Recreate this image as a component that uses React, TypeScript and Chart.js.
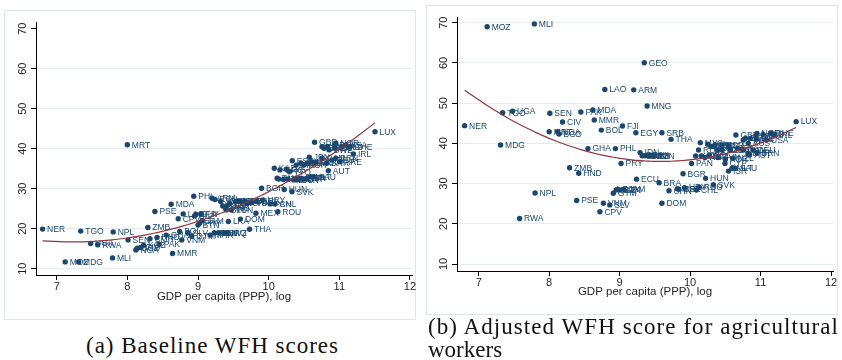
import React, { useEffect, useLayoutEffect, useRef, useState } from "react";
import { Chart, registerables } from "chart.js";

Chart.register(...registerables);
Chart.defaults.font.family = '"Liberation Sans", Arial, Helvetica, sans-serif';

// Country codes with log GDP per capita (PPP) and the two WFH measures
const CODES = [
  "NER", "MOZ", "MDG", "TGO", "UGA", "RWA", "MLI", "NPL", "MRT", "SEN",
  "NGA", "BGD", "CIV", "KGZ", "ZMB", "CMR", "PSE", "HND", "PAK", "GHA",
  "MDA", "MMR", "CPV", "BOL", "VNM", "LAO", "SLV", "GTM", "PHL", "BLZ",
  "GUY", "BTN", "PRY", "FJI", "JAM", "MAR", "ARM", "EGY", "ECU", "IDN",
  "JOR", "GEO", "SWZ", "MNG", "BIH", "IRQ", "ALB", "LKA", "PER", "TUN",
  "ZAF", "BRA", "SRB", "DOM", "COL", "CHN", "THA", "TUR", "MEX", "CRI",
  "BGR", "URY", "PAN", "CHL", "ROU", "HUN", "SVK", "KAZ", "RUS", "MYS",
  "GRC", "HRV", "LVA", "POL", "TTO", "EST", "LTU", "PRT", "SVN", "CZE",
  "ESP", "KOR", "CYP", "ISR", "ITA", "JPN", "GBR", "MLT", "NZL", "SAU",
  "FRA", "FIN", "BEL", "CAN", "AUS", "SWE", "BHR", "AUT", "DNK", "DEU",
  "ISL", "NOR", "BRN", "NLD", "ARE", "USA", "CHE", "IRL", "LUX",
];

const LOG_GDP = [
  6.8, 7.12, 7.31, 7.34, 7.48, 7.58, 7.79, 7.8, 8.0, 8.01,
  8.12, 8.14, 8.19, 8.23, 8.29, 8.32, 8.39, 8.42, 8.45, 8.55,
  8.62, 8.64, 8.72, 8.74, 8.77, 8.79, 8.86, 8.91, 8.94, 8.95,
  8.97, 9.0, 9.02, 9.04, 9.06, 9.17, 9.2, 9.23, 9.24, 9.29,
  9.32, 9.35, 9.36, 9.39, 9.4, 9.41, 9.42, 9.43, 9.45, 9.47,
  9.53, 9.56, 9.6, 9.6, 9.66, 9.7, 9.73, 9.76, 9.82, 9.84,
  9.9, 9.92, 10.02, 10.09, 10.13, 10.22, 10.33, 10.08, 10.12, 10.145,
  10.16, 10.21, 10.25, 10.275, 10.295, 10.335, 10.355, 10.39, 10.4, 10.455,
  10.455, 10.5, 10.495, 10.545, 10.545, 10.575, 10.65, 10.595, 10.61, 10.64,
  10.67, 10.755, 10.785, 10.755, 10.825, 10.855, 10.82, 10.845, 10.935, 10.895,
  10.94, 10.95, 10.95, 11.035, 11.01, 11.085, 11.15, 11.2, 11.505,
];

const WFH_BASE = [
  19.9, 11.7, 11.7, 19.4, 16.3, 16.0, 12.7, 19.2, 41.0, 17.2,
  14.7, 15.1, 15.3, 15.9, 20.3, 17.5, 24.3, 17.8, 16.1, 18.4,
  26.1, 13.8, 22.5, 19.3, 17.2, 23.7, 19.0, 18.1, 28.1, 23.2,
  23.6, 20.9, 21.3, 23.7, 22.0, 18.4, 27.6, 19.0, 27.3, 19.0,
  26.8, 25.7, 19.0, 25.1, 24.7, 19.0, 25.9, 21.8, 26.3, 24.7,
  26.8, 26.8, 26.8, 22.4, 26.8, 26.3, 19.85, 26.5, 23.85, 26.8,
  30.1, 27.2, 26.2, 26.2, 24.25, 29.8, 29.25, 35.1, 32.6, 32.4,
  34.7, 32.3, 34.85, 32.4, 34.25, 37.0, 32.2, 35.9, 32.2, 36.35,
  32.6, 35.9, 32.4, 32.6, 36.35, 37.85, 41.6, 33.0, 36.75, 33.0,
  36.35, 40.5, 40.1, 37.6, 40.5, 39.7, 36.35, 34.5, 40.9, 37.2,
  40.1, 41.35, 37.6, 40.5, 36.75, 40.9, 40.5, 38.7, 44.25,
];

const WFH_AGRI: (number | null)[] = [
  44.4, 69.0, 39.6, 47.6, 48.0, 21.3, 69.7, 27.65, 42.9, 47.5,
  42.9, 42.3, 45.3, null, 33.95, null, 25.8, 32.55, 47.8, 38.7,
  48.3, 45.8, 23.0, 43.3, 25.1, 53.4, 24.7, 27.6, 38.7, 28.4,
  28.6, 28.4, 35.0, 44.3, 28.6, null, 53.3, 42.65, 31.1, 37.7,
  36.9, 60.05, 36.9, 49.3, 37.1, null, 36.85, 37.1, null, 36.85,
  null, 30.2, 42.65, 25.1, null, 28.2, 41.0, null, 28.7, 28.6,
  32.45, 29.0, 35.0, 28.4, 29.1, 31.3, 29.7, 36.85, 38.35, 40.17,
  36.85, 36.5, 39.8, 37.1, 39.2, 39.2, 39.6, 38.35, 36.5, 38.35,
  39.6, 36.0, 35.0, 33.1, 39.2, 38.35, 42.07, 33.8, 36.3, 33.8,
  38.76, 40.83, 41.25, 38.35, 40.0, 41.25, 37.5, 37.1, 41.83, 38.35,
  41.0, 42.49, 37.68, 42.24, null, 40.83, 42.49, 42.07, 45.4,
];

const X_TICKS = [7, 8, 9, 10, 11, 12];
const Y_TICKS = [10, 20, 30, 40, 50, 60, 70];
const X_TITLE = "GDP per capita (PPP), log";
const CAPTION_A = "(a) Baseline WFH scores";
const CAPTION_B = ["(b) Adjusted WFH score for agricultural", "workers"];

const NAVY = "#1a476f";
const FIT_RED = "#90353b";
const GRID = "#e4ecef";
const FRAME = "#dfe7ec";
const INK = "#1e1e1e";

const Y_AXIS_W = 30;
const X_AXIS_H = 32;
const TICK_LEN = 5;

type Pt = { x: number; y: number; code: string };

// Least-squares quadratic fit (qfit) evaluated at the observed x values
function qfit(points: Pt[]): { x: number; y: number }[] {
  const n = points.length;
  const m = points.reduce((s, p) => s + p.x, 0) / n;
  const S = [0, 0, 0, 0, 0];
  const T = [0, 0, 0];
  for (const p of points) {
    const u = p.x - m;
    let pw = 1;
    for (let k = 0; k < 5; k++) {
      S[k] += pw;
      if (k < 3) T[k] += p.y * pw;
      pw *= u;
    }
  }
  const A = [
    [S[0], S[1], S[2], T[0]],
    [S[1], S[2], S[3], T[1]],
    [S[2], S[3], S[4], T[2]],
  ];
  for (let i = 0; i < 3; i++) {
    for (let r = i + 1; r < 3; r++) {
      const f = A[r][i] / A[i][i];
      for (let c = i; c < 4; c++) A[r][c] -= f * A[i][c];
    }
  }
  const c = [0, 0, 0];
  for (let i = 2; i >= 0; i--) {
    let s = A[i][3];
    for (let j = i + 1; j < 3; j++) s -= A[i][j] * c[j];
    c[i] = s / A[i][i];
  }
  const xs = Array.from(new Set(points.map((p) => p.x))).sort((a, b) => a - b);
  return xs.map((x) => {
    const u = x - m;
    return { x, y: c[0] + c[1] * u + c[2] * u * u };
  });
}

type PanelSpec = {
  left: number;
  top: number;
  width: number;
  height: number;
  area: { left: number; top: number; right: number; bottom: number };
  xMin: number;
  xMax: number;
  yMin: number;
  yMax: number;
  values: (number | null)[];
  topGrid: boolean;
  titlePad: number;
};

const PANEL_A: PanelSpec = {
  left: 4,
  top: 10,
  width: 412,
  height: 310,
  area: { left: 32, top: 12, right: 408, bottom: 265 },
  xMin: 6.707,
  xMax: 12.029,
  yMin: 8.43,
  yMax: 71.68,
  values: WFH_BASE,
  topGrid: false,
  titlePad: 3.1,
};

const PANEL_B: PanelSpec = {
  left: 426,
  top: 5,
  width: 412,
  height: 310,
  area: { left: 31, top: 12, right: 407, bottom: 266 },
  xMin: 6.692,
  xMax: 12.028,
  yMin: 8.26,
  yMax: 71.42,
  values: WFH_AGRI,
  topGrid: true,
  titlePad: 4.1,
};

const panelDecor = {
  id: "panelDecor",
  beforeDraw(chart: any) {
    const { ctx, width, height } = chart;
    ctx.save();
    ctx.fillStyle = "#ffffff";
    ctx.fillRect(0, 0, width, height);
    ctx.strokeStyle = FRAME;
    ctx.lineWidth = 1;
    ctx.strokeRect(0.5, 0.5, width - 1, height - 1);
    ctx.restore();
  },
  afterDatasetDraw(chart: any, args: any) {
    const ds = chart.data.datasets[args.index];
    if (!ds.markerLabels) return;
    const ctx = chart.ctx;
    ctx.save();
    ctx.font = '8.5px "Liberation Sans", Arial, sans-serif';
    ctx.fillStyle = NAVY;
    ctx.textAlign = "left";
    ctx.textBaseline = "middle";
    args.meta.data.forEach((el: any, i: number) => {
      const d = ds.data[i] as Pt;
      ctx.fillText(d.code, el.x + 4.5, el.y + 0.5);
    });
    ctx.restore();
  },
  afterDraw(chart: any) {
    const yScale = chart.scales.y;
    const ctx = chart.ctx;
    ctx.save();
    ctx.font = '11px "Liberation Sans", Arial, sans-serif';
    ctx.fillStyle = INK;
    ctx.textAlign = "center";
    ctx.textBaseline = "middle";
    for (const t of yScale.ticks) {
      const py = yScale.getPixelForValue(t.value);
      ctx.save();
      ctx.translate(yScale.right - TICK_LEN - 8.5, py);
      ctx.rotate(-Math.PI / 2);
      ctx.fillText(String(t.value), 0, 0);
      ctx.restore();
    }
    ctx.restore();
  },
};

function Panel({ spec }: { spec: PanelSpec }) {
  const ref = useRef<HTMLCanvasElement>(null);

  useEffect(() => {
    const canvas = ref.current;
    if (!canvas) return;
    const points: Pt[] = [];
    CODES.forEach((code, i) => {
      const v = spec.values[i];
      if (v !== null && v !== undefined) points.push({ x: LOG_GDP[i], y: v, code });
    });
    const fit = qfit(points);

    const chart = new Chart(canvas, {
      type: "scatter",
      data: {
        datasets: [
          {
            type: "line",
            data: fit,
            borderColor: FIT_RED,
            borderWidth: 1.2,
            pointRadius: 0,
            fill: false,
            tension: 0,
            order: 0,
          } as any,
          {
            type: "scatter",
            data: points,
            backgroundColor: NAVY,
            borderWidth: 0,
            pointRadius: 2.7,
            order: 1,
            markerLabels: true,
          } as any,
        ],
      },
      options: {
        animation: false,
        responsive: false,
        events: [],
        layout: {
          padding: {
            left: spec.area.left - Y_AXIS_W,
            top: spec.area.top,
            right: spec.width - spec.area.right,
            bottom: spec.height - spec.area.bottom - X_AXIS_H,
          },
        },
        plugins: {
          legend: { display: false },
          tooltip: { enabled: false },
        },
        scales: {
          x: {
            type: "linear",
            min: spec.xMin,
            max: spec.xMax,
            afterBuildTicks: (s: any) => {
              s.ticks = X_TICKS.map((v) => ({ value: v }));
            },
            afterFit: (s: any) => {
              s.height = X_AXIS_H;
              s.paddingLeft = 0;
              s.paddingRight = 0;
            },
            grid: {
              drawOnChartArea: false,
              drawTicks: true,
              tickLength: TICK_LEN,
              tickColor: "#000",
              tickWidth: 1,
            },
            border: { display: true, color: "#000", width: 1 },
            ticks: {
              font: { size: 11 },
              color: INK,
              padding: 0,
              maxRotation: 0,
              autoSkip: false,
              callback: (v: any) => String(v),
            },
            title: {
              display: true,
              text: X_TITLE,
              color: INK,
              font: { size: 11.5 },
              padding: { top: 0, bottom: spec.titlePad },
            },
          },
          y: {
            type: "linear",
            min: spec.yMin,
            max: spec.yMax,
            afterBuildTicks: (s: any) => {
              s.ticks = Y_TICKS.map((v) => ({ value: v }));
            },
            afterFit: (s: any) => {
              s.width = Y_AXIS_W;
              s.paddingTop = 0;
              s.paddingBottom = 0;
            },
            grid: {
              color: (c: any) =>
                !spec.topGrid && c.tick && c.tick.value === 70 ? "rgba(0,0,0,0)" : GRID,
              lineWidth: 1,
              drawTicks: true,
              tickLength: TICK_LEN,
              tickColor: "#000",
              tickWidth: 1,
            },
            border: { display: true, color: "#000", width: 1 },
            ticks: { display: false },
          },
        },
      } as any,
      plugins: [panelDecor],
    });
    return () => chart.destroy();
  }, [spec]);

  return (
    <canvas
      ref={ref}
      width={spec.width}
      height={spec.height}
      style={{
        position: "absolute",
        left: spec.left,
        top: spec.top,
        width: spec.width,
        height: spec.height,
      }}
    />
  );
}

function CaptionLine({
  text,
  left,
  top,
  width,
  size,
}: {
  text: string;
  left: number;
  top: number;
  width?: number;
  size: number;
}) {
  const ref = useRef<HTMLSpanElement>(null);
  const [spacing, setSpacing] = useState(0);
  useLayoutEffect(() => {
    const el = ref.current;
    if (!el || !width) return;
    el.style.letterSpacing = "0px";
    const natural = el.getBoundingClientRect().width;
    setSpacing((width - natural) / Math.max(1, text.length - 1));
  }, [text, width]);
  return (
    <span
      ref={ref}
      style={{
        position: "absolute",
        left,
        top,
        whiteSpace: "nowrap",
        fontFamily: '"Liberation Serif", "Times New Roman", serif',
        fontSize: size,
        lineHeight: 1,
        color: "#111",
        letterSpacing: spacing,
      }}
    >
      {text}
    </span>
  );
}

export default function App() {
  return (
    <div
      style={{
        position: "fixed",
        left: 0,
        top: 0,
        width: 842,
        height: 360,
        background: "#ffffff",
        overflow: "hidden",
      }}
    >
      <Panel spec={PANEL_A} />
      <Panel spec={PANEL_B} />
      <CaptionLine text={CAPTION_A} left={86} top={334} width={252} size={23} />
      <CaptionLine text={CAPTION_B[0]} left={428} top={315} width={410} size={23} />
      <CaptionLine text={CAPTION_B[1]} left={428} top={338} size={23} />
    </div>
  );
}
